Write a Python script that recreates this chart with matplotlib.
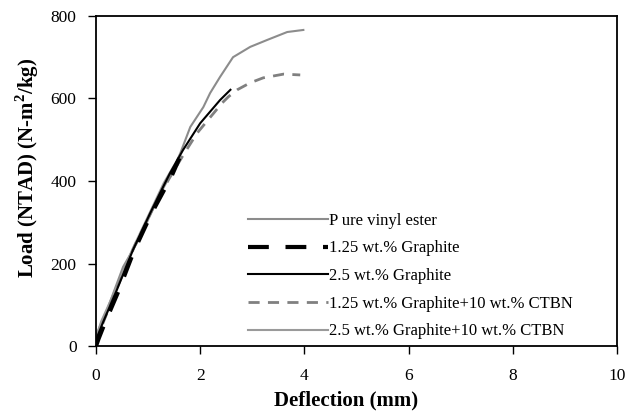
import matplotlib
matplotlib.use("Agg")
import matplotlib.pyplot as plt

plt.rcParams['font.family'] = ['Liberation Serif', 'DejaVu Serif']
plt.rcParams['mathtext.fontset'] = 'custom'
plt.rcParams['mathtext.rm'] = 'Liberation Serif'
plt.rcParams['mathtext.bf'] = 'Liberation Serif:bold'

# Pure vinyl ester (upper gray curve)
pure_x = [0.0, 0.02, 0.21, 0.52, 0.85, 1.17, 1.45, 1.62, 1.81, 2.06, 2.19, 2.38, 2.63, 2.96, 3.29, 3.67, 3.98]
pure_y = [0, 32, 87, 192, 264, 354, 420, 468, 531, 579, 613, 652, 700, 725, 742, 761, 766]

# 1.25 wt.% Graphite (black dashed)
g125_x = [0.0, 0.05, 0.15, 0.42, 0.72, 1.05, 1.25, 1.45, 1.6]
g125_y = [0, 18, 50, 130, 228, 318, 365, 412, 455]

# 2.5 wt.% Graphite (black solid)
g25_x = [0.0, 0.13, 0.40, 0.71, 1.04, 1.23, 1.42, 1.67, 2.0, 2.38, 2.58]
g25_y = [15, 56, 136, 233, 322, 371, 419, 475, 540, 596, 621]

# 1.25 wt.% Graphite + 10 wt.% CTBN (gray dashed)
c125_x = [0.0, 0.1, 0.4, 0.75, 1.1, 1.4, 1.67, 1.94, 2.42, 2.54, 2.71, 2.96, 3.21, 3.6, 3.92]
c125_y = [10, 45, 140, 245, 335, 405, 462, 516, 589, 604, 621, 638, 650, 659, 657]

# 2.5 wt.% Graphite + 10 wt.% CTBN (gray solid)
c25_x = [0.0, 0.1, 0.35, 0.7, 1.0, 1.3, 1.6]
c25_y = [20, 60, 130, 235, 315, 395, 460]

labels = ["P ure vinyl ester", "1.25 wt.% Graphite", "2.5 wt.% Graphite",
          "1.25 wt.% Graphite+10 wt.% CTBN", "2.5 wt.% Graphite+10 wt.% CTBN"]

xticks = [0, 2, 4, 6, 8, 10]
yticks = [0, 200, 400, 600, 800]

fig = plt.figure(figsize=(6.25, 4.19), dpi=100)
ax = fig.add_axes([0.1536, 0.174, 0.8336, 0.788])

ax.plot(pure_x, pure_y, color='#8c8c8c', lw=1.5, label=labels[0])
ax.plot(c25_x, c25_y, color='#9a9a9a', lw=1.5, label=labels[4])
ax.plot(c125_x, c125_y, color='#808080', lw=2, ls=(0, (4, 3)), label=labels[3])
ax.plot(g125_x, g125_y, color='black', lw=3, ls=(0, (5, 4)), label=labels[1])
ax.plot(g25_x, g25_y, color='black', lw=1.5, label=labels[2])

ax.set_xlim(0, 10)
ax.set_ylim(0, 800)
ax.set_xticks(xticks)
ax.set_yticks(yticks)
ax.set_xticklabels([str(t) for t in xticks])
ax.tick_params(direction='out', length=6, width=1, labelsize=12.5)
ax.tick_params(axis='x', pad=10)
ax.tick_params(axis='y', pad=8)
for s in ax.spines.values():
    s.set_linewidth(1.3)

ax.set_xlabel('Deflection (mm)', fontsize=15, fontweight='bold', labelpad=6)
ax.xaxis.set_label_coords(0.48, -0.135)
ax.set_ylabel('Load (NTAD) (N-m$^{\\mathbf{2}}$/kg)', fontsize=15, fontweight='bold', labelpad=8)
ax.yaxis.set_label_coords(-0.105, 0.54)

handles, labs = ax.get_legend_handles_labels()
order = [labs.index(l) for l in labels]
leg = ax.legend([handles[i] for i in order], [labs[i] for i in order],
                loc='lower left', bbox_to_anchor=(0.262, -0.025), frameon=False,
                fontsize=12, handlelength=4.8, handletextpad=0.1,
                labelspacing=0.7)

fig.savefig('out.png', dpi=100)
